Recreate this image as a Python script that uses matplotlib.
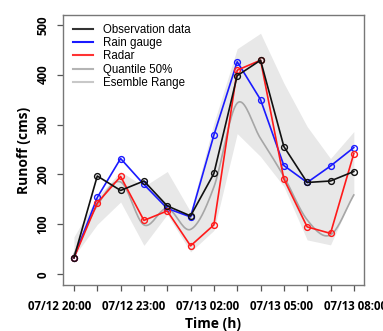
import numpy as np
import matplotlib
matplotlib.use("Agg")
import matplotlib.pyplot as plt
import matplotlib.transforms as mtransforms
from matplotlib.lines import Line2D

# Hourly runoff, 07/12 20:00 .. 07/13 08:00
hours = list(range(13))
tick_labels = ["07/12 20:00", "07/12 23:00", "07/13 02:00", "07/13 05:00", "07/13 08:00"]

observation = [33, 197, 168, 187, 137, 117, 202, 398, 429, 256, 184, 187, 206]
rain_gauge = [33, 154, 232, 180, 132, 115, 279, 426, 350, 218, 184, 217, 254]
radar = [33, 143, 196, 108, 127, 57, 99, 409, 429, 191, 95, 82, 242]
quantile50 = [40, 138, 185, 99, 132, 90, 175, 343, 272, 196, 109, 79, 159]
ens_upper = [75, 155, 206, 176, 206, 125, 303, 452, 483, 383, 296, 232, 286]
ens_lower = [36, 100, 145, 58, 120, 45, 88, 282, 236, 176, 69, 59, 162]


def catmull_rom(x, y, n=20):
    """Smooth curve through (x, y) using a Catmull-Rom spline."""
    x = np.asarray(x, float)
    y = np.asarray(y, float)
    px = np.concatenate([[2 * x[0] - x[1]], x, [2 * x[-1] - x[-2]]])
    py = np.concatenate([[2 * y[0] - y[1]], y, [2 * y[-1] - y[-2]]])
    xs, ys = [], []
    t = np.linspace(0, 1, n, endpoint=False)
    for i in range(1, len(px) - 2):
        for arr, out in ((px, xs), (py, ys)):
            p0, p1, p2, p3 = arr[i - 1], arr[i], arr[i + 1], arr[i + 2]
            out.extend(0.5 * ((2 * p1) + (-p0 + p2) * t
                              + (2 * p0 - 5 * p1 + 4 * p2 - p3) * t ** 2
                              + (-p0 + 3 * p1 - 3 * p2 + p3) * t ** 3))
    xs.append(x[-1])
    ys.append(y[-1])
    return np.array(xs), np.array(ys)


fig = plt.figure(figsize=(3.83, 3.31), dpi=100)
ax = fig.add_axes([0.1645, 0.139, 0.7855, 0.8157])

ax.fill_between(hours, ens_lower, ens_upper, color="#e8e8e8", lw=0, zorder=1)
qx, qy = catmull_rom(hours, quantile50)
ax.plot(qx, qy, color="#a6a6a6", lw=1.2, zorder=2)

mk = dict(marker="o", markersize=4.2, markerfacecolor="none", markeredgewidth=1.0, lw=1.2)
ax.plot(hours, observation, color="#111111", zorder=5, **mk)
ax.plot(hours, rain_gauge, color="#1a1aff", zorder=4, **mk)
ax.plot(hours, radar, color="#ff1a1a", zorder=4, **mk)

# Legend
handles = [
    Line2D([], [], color="#333333", lw=1.5),
    Line2D([], [], color="#1a1aff", lw=1.5),
    Line2D([], [], color="#ff3333", lw=1.5),
    Line2D([], [], color="#b4b4b4", lw=1.5),
    Line2D([], [], color="#c8c8c8", lw=1.5),
]
names = ["Observation data", "Rain gauge", "Radar", "Quantile 50%", "Esemble Range"]
ax.legend(handles, names, loc="upper left", frameon=False,
          prop={"family": "Liberation Sans", "size": 8.3},
          handlelength=1.75, handletextpad=0.85, labelspacing=0.12,
          borderaxespad=0.0, bbox_to_anchor=(0.018, 0.985))

ax.set_xlim(-0.47, 12.43)
ax.set_ylim(-21.4, 519.6)

# Hourly ticks; date labels are spread on their own slightly wider spacing
ax.set_xticks(hours)
ax.set_xticklabels([])
label_pos = np.linspace(-0.62, 12.06, len(tick_labels))
trans = mtransforms.blended_transform_factory(ax.transData, ax.transAxes)
for xp, txt in zip(label_pos, tick_labels):
    ax.text(xp, -0.078, txt, transform=trans, ha="center", va="center",
            fontfamily="Open Sans", fontweight="bold", fontsize=8.3, clip_on=False)

ax.set_yticks([0, 100, 200, 300, 400, 500])
ax.set_yticklabels(["0", "100", "200", "300", "400", "500"], rotation=90, va="center")
for lab in ax.get_yticklabels():
    lab.set_fontfamily("Open Sans")
    lab.set_fontweight("bold")
    lab.set_fontsize(8.3)

ax.tick_params(axis="both", direction="out", length=4.5, width=0.9, color="#555555")
ax.tick_params(axis="y", pad=5)

for sp in ax.spines.values():
    sp.set_color("#777777")
    sp.set_linewidth(1.0)

ax.set_xlabel("Time (h)", fontfamily="Open Sans", fontweight="bold", fontsize=10, va="top")
ax.xaxis.set_label_coords(0.5, -0.117)
ax.set_ylabel("Runoff (cms)", fontfamily="Open Sans", fontweight="bold", fontsize=10, labelpad=4)

fig.savefig("out.png", dpi=100)
